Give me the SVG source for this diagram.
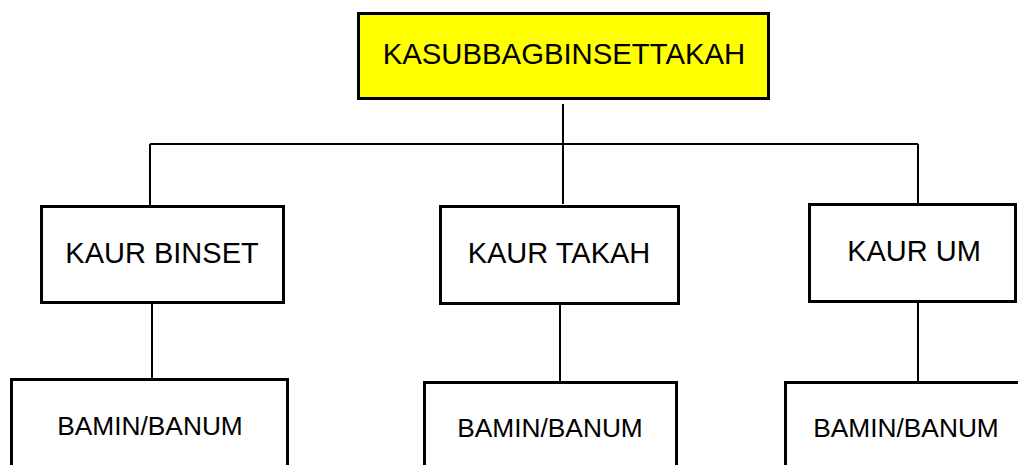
<svg xmlns="http://www.w3.org/2000/svg" width="1018" height="465" viewBox="0 0 1018 465">
<style>
.box{fill:#fff;stroke:#000;stroke-width:3}
.top{fill:#ffff00;stroke:#000;stroke-width:3}
.conn line{stroke:#000;stroke-width:2}
text{font-family:"Liberation Sans",Arial,sans-serif;fill:#000;text-anchor:middle}
.t1{font-size:29.3px}
.t2{font-size:29px}
.t3{font-size:26.3px}
</style>
<rect x="0" y="0" width="1018" height="465" fill="#fff"/>
<g id="connectors" class="conn">
<line x1="563" y1="104" x2="563" y2="204"/>
<line x1="150" y1="144" x2="918" y2="144"/>
<line x1="150" y1="144" x2="150" y2="205"/>
<line x1="918" y1="144" x2="918" y2="203"/>
<line x1="152" y1="303" x2="152" y2="378"/>
<line x1="560" y1="304" x2="560" y2="381"/>
<line x1="918" y1="302" x2="918" y2="381"/>
</g>
<g id="kasubbag">
<rect class="top" x="358.5" y="13.5" width="410" height="85"/>
<text class="t1" x="564" y="64">KASUBBAGBINSETTAKAH</text>
</g>
<g id="kaur-binset">
<rect class="box" x="41.5" y="206.5" width="242" height="96"/>
<text class="t2" x="162" y="263">KAUR BINSET</text>
</g>
<g id="kaur-takah">
<rect class="box" x="440.5" y="206.5" width="238" height="97"/>
<text class="t2" x="559" y="263">KAUR TAKAH</text>
</g>
<g id="kaur-um">
<rect class="box" x="809.5" y="204.5" width="206" height="97"/>
<text class="t2" x="914" y="261">KAUR UM</text>
</g>
<g id="bamin-1">
<rect class="box" x="11.5" y="379.5" width="276" height="100"/>
<text class="t3" x="150" y="435">BAMIN/BANUM</text>
</g>
<g id="bamin-2">
<rect class="box" x="424.5" y="382.5" width="252" height="100"/>
<text class="t3" x="550" y="437">BAMIN/BANUM</text>
</g>
<g id="bamin-3">
<rect class="box" x="785.5" y="382.5" width="250" height="100"/>
<text class="t3" x="906" y="437">BAMIN/BANUM</text>
</g>
</svg>
